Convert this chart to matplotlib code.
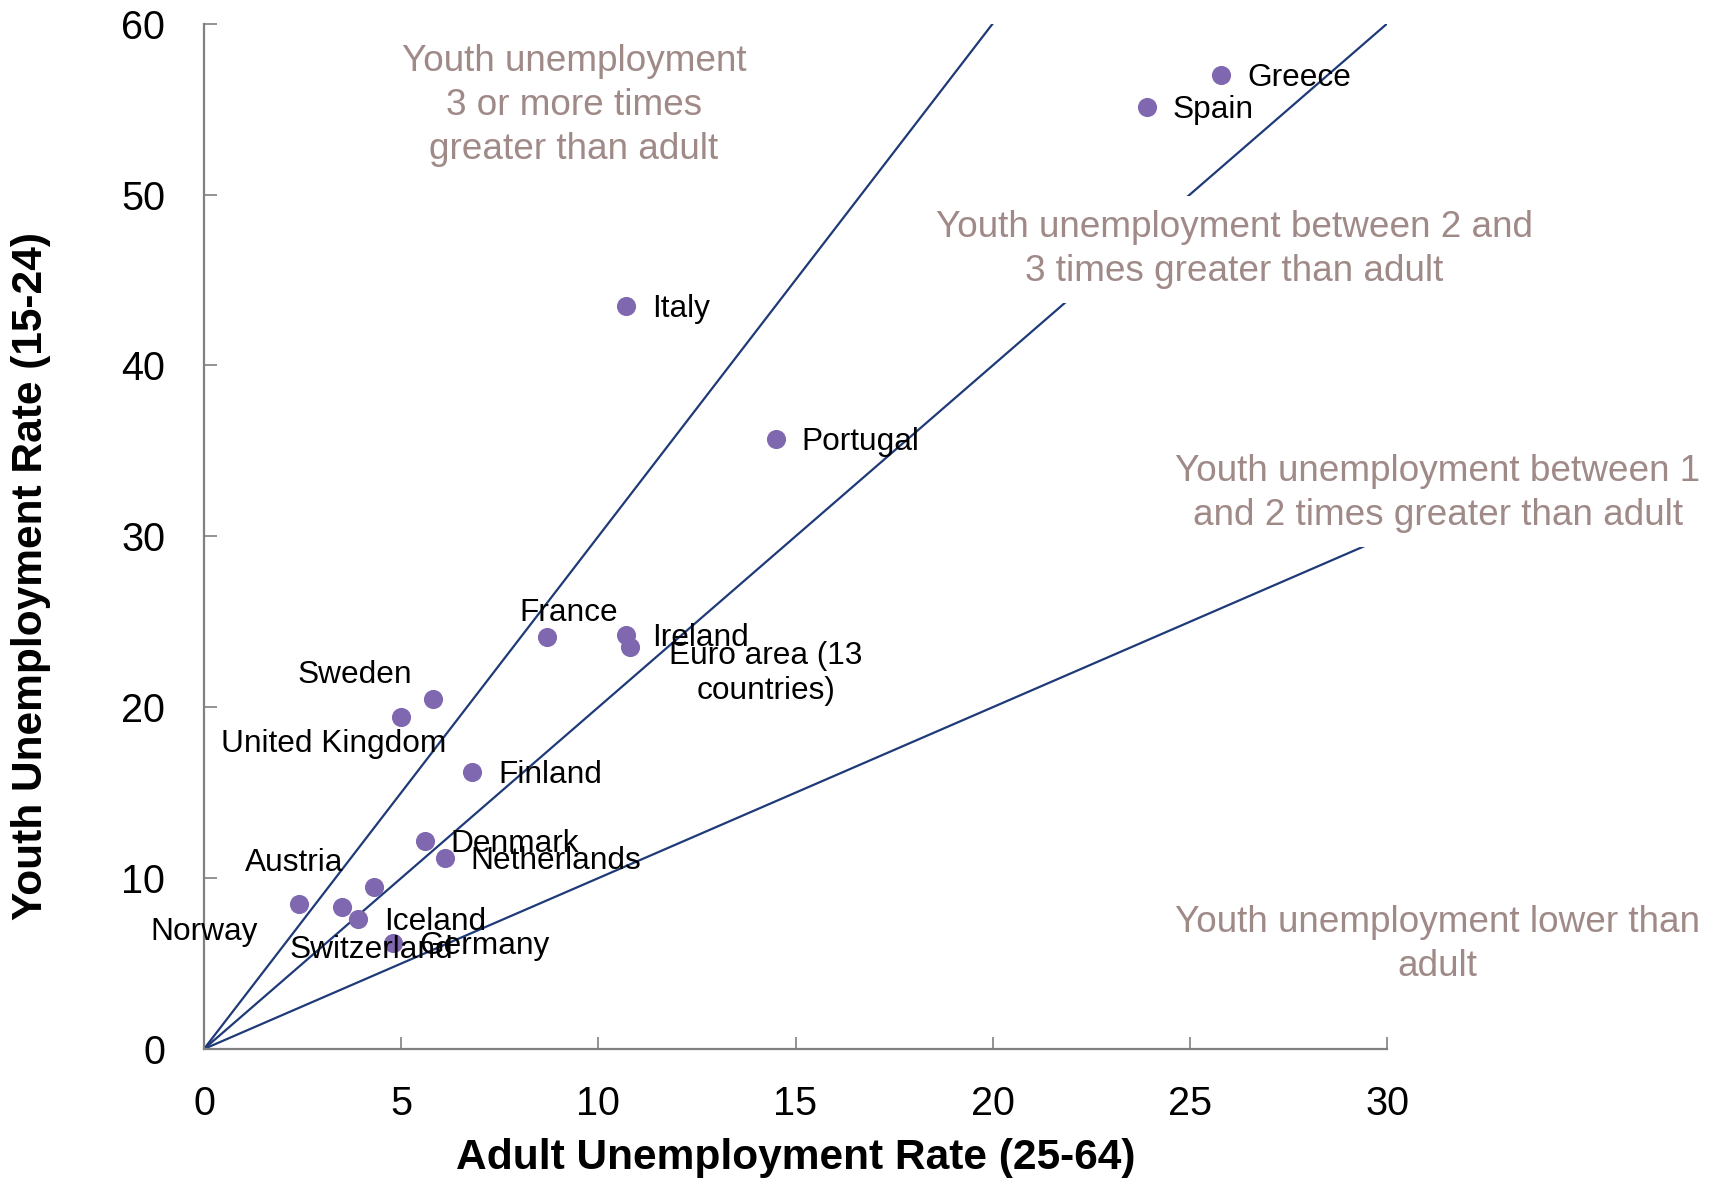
import matplotlib
matplotlib.use("Agg")
import matplotlib.pyplot as plt
import numpy as np

plt.rcParams['font.family'] = ['Liberation Sans', 'DejaVu Sans']

# data
countries = ["Greece", "Spain", "Italy", "Portugal", "France", "Ireland",
             "Euro area (13\ncountries)", "Sweden", "United Kingdom", "Finland",
             "Denmark", "Netherlands", "Austria", "Norway", "Switzerland",
             "Iceland", "Germany"]
adult = [25.8, 23.9, 10.7, 14.5, 8.7, 10.7, 10.8, 5.8, 5.0, 6.8, 5.6, 6.1,
         4.3, 2.4, 3.5, 3.9, 4.8]
youth = [57.0, 55.1, 43.5, 35.7, 24.1, 24.2, 23.5, 20.5, 19.4, 16.2, 12.2,
         11.2, 9.5, 8.5, 8.3, 7.6, 6.2]

ratios = [3, 2, 1]
ratio_xmax = [20, 30, 30]

zone_texts = ["Youth unemployment\n3 or more times\ngreater than adult",
              "Youth unemployment between 2 and\n3 times greater than adult",
              "Youth unemployment between 1\nand 2 times greater than adult",
              "Youth unemployment lower than\nadult"]
zone_x = [9.38, 26.13, 31.28, 31.28]
zone_y = [55.2, 46.8, 32.5, 6.1]

# label placement (pixels offset, alignment)
label_pos = {
    "France": (22, 24, "center"),
    "Euro area (13\ncountries)": (136, -26, "center"),
    "Sweden": (-78, 24, "center"),
    "United Kingdom": (-67, -27, "center"),
    "Austria": (-79, 24, "center"),
    "Norway": (-94, -28, "center"),
    "Switzerland": (29, -43, "center"),
}

fig = plt.figure(figsize=(17.21, 11.80), dpi=100)
ax = fig.add_axes([0.1185, 0.111, 0.6875, 0.869])

line_col = "#1F3A78"
for r, xm in zip(ratios, ratio_xmax):
    xs = np.array([0, xm])
    ax.plot(xs, r * xs, color=line_col, lw=1.6, zorder=2)

ax.scatter(adult, youth, s=190, color="#7F68B0", zorder=4, linewidths=0)

for name, x, y in zip(countries, adult, youth):
    dx, dy, ha = label_pos.get(name, (26, -3, "left"))
    ax.annotate(name, (x, y), xytext=(dx, dy), textcoords="offset pixels",
                ha=ha, va="center", fontsize=22.8, color="black",
                zorder=5, annotation_clip=False, linespacing=1.2)

for t, x, y in zip(zone_texts, zone_x, zone_y):
    ax.text(x, y, t, ha="center", va="center", fontsize=26.6,
            color="#A08A88", zorder=3, clip_on=False, linespacing=1.32,
            bbox=dict(facecolor="white", edgecolor="none", pad=10))

ax.set_xlim(0, 30)
ax.set_ylim(0, 60)
ax.set_xticks(range(0, 31, 5))
ax.set_yticks(range(0, 61, 10))
ax.tick_params(direction="in", length=9, width=1.2, color="#808080",
               labelsize=28.5, pad=26)
ax.tick_params(axis="y", pad=28)

for s in ["top", "right"]:
    ax.spines[s].set_visible(False)
for s in ["left", "bottom"]:
    ax.spines[s].set_color("#808080")
    ax.spines[s].set_linewidth(1.6)

ax.set_xlabel("Adult Unemployment Rate (25-64)", fontsize=30.6, fontweight="bold",
              va="center")
ax.xaxis.set_label_coords(0.50, -0.106)
ax.set_ylabel("Youth Unemployment Rate (15-24)", fontsize=30.6, fontweight="bold",
              va="center")
ax.yaxis.set_label_coords(-0.146, 0.461)

fig.savefig("out.png", dpi=100)
